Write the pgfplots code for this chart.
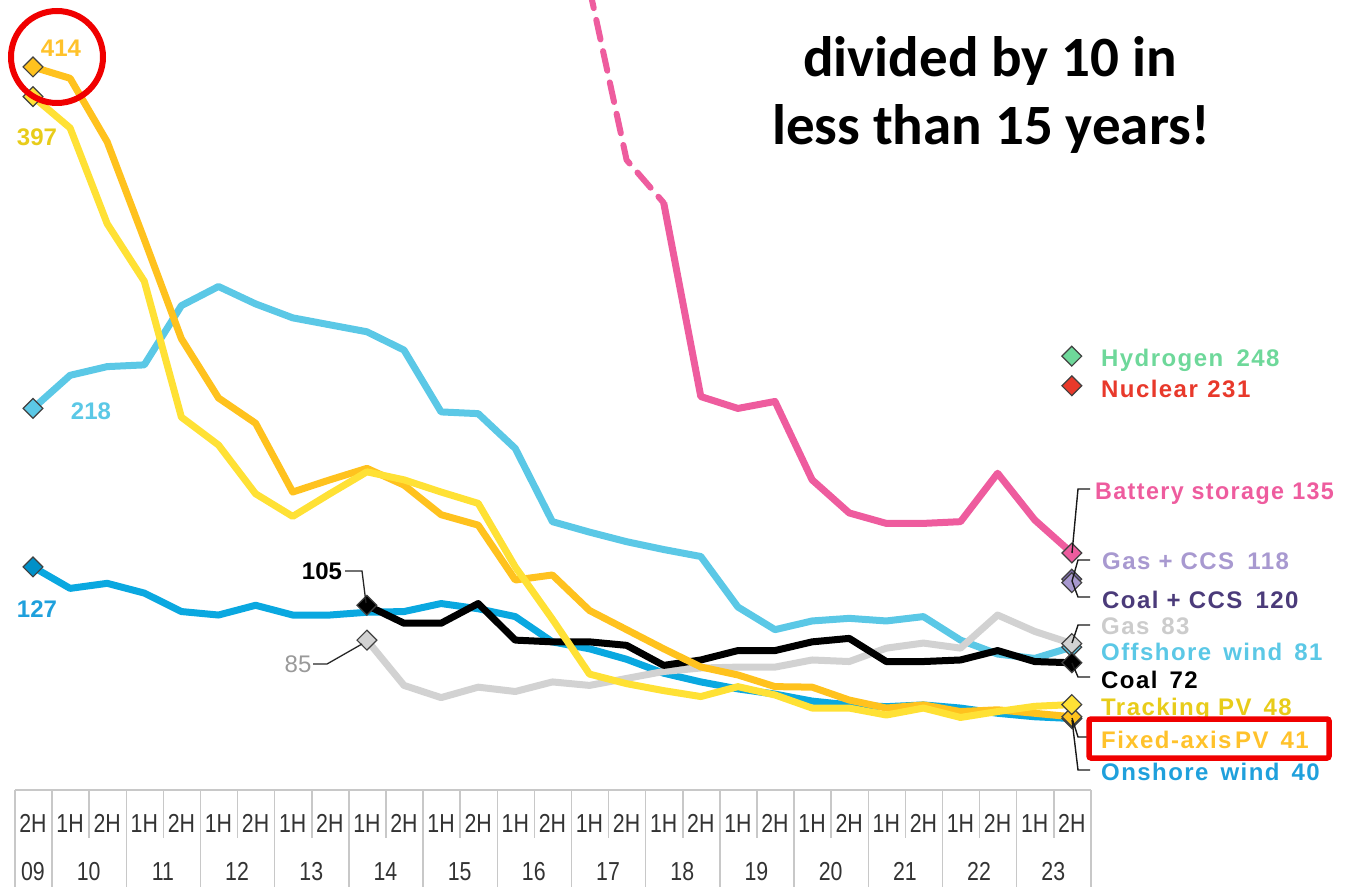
\documentclass[border=0pt]{standalone}
\usepackage{pgfplots}
\pgfplotsset{compat=1.18}
\usepackage{fontspec}
\setmainfont{Liberation Sans}
\newfontfamily\labfont[LetterSpace=6]{Liberation Sans}
\newfontfamily\titlefont{Carlito}

\definecolor{offsh}{HTML}{5BC8E6}
\definecolor{onsh}{HTML}{0AA8E0}
\definecolor{onshm}{HTML}{0090C8}
\definecolor{onshlab}{HTML}{1FA0DC}
\definecolor{fixed}{HTML}{FFC21E}
\definecolor{fixedlab}{HTML}{FFC22B}
\definecolor{track}{HTML}{FFE135}
\definecolor{tracklab}{HTML}{E8CC1A}
\definecolor{batt}{HTML}{EE5C9E}
\definecolor{gasc}{HTML}{D2D2D2}
\definecolor{gaslab}{HTML}{CCCCCC}
\definecolor{gasccs}{HTML}{A899D0}
\definecolor{coalccs}{HTML}{4B3B7A}
\definecolor{coalccsm}{HTML}{7E6BB0}
\definecolor{hydro}{HTML}{6ED89A}
\definecolor{nucl}{HTML}{E8392B}
\definecolor{redmark}{HTML}{F00000}
\definecolor{tabtxt}{HTML}{333333}
\definecolor{tabline}{HTML}{C8C8C8}

\pgfplotsset{
  ser/.style={no marks, line width=7pt, line join=round, color=#1},
  dmark/.style={only marks, mark=square*, mark size=7pt,
     mark options={rotate=45, draw=black!75, line width=1.2pt, fill=#1}},
}

\begin{document}
\begin{tikzpicture}
\useasboundingbox (0pt,0pt) rectangle (1354pt,887pt);
\begin{axis}[
  at={(0pt,0pt)}, anchor=south west,
  scale only axis, width=1354pt, height=887pt,
  xmin=-0.88949, xmax=35.6065, ymin=-56.72, ymax=452.46,
  axis lines=none, clip=true,
]
% Offshore wind
\addplot[ser=offsh] coordinates {
(0,218)(1,237)(2,242)(3,243)(4,277)(5,288)(6,278)(7,270)(8,266)(9,262)
(10,251.5)(11,216)(12,215)(13,195)(14,153)(15,147)(16,141.5)(17,137)(18,133)
(19,104)(20,91)(21,96)(22,97.5)(23,96)(24,98.5)(25,85)(26,77)(27,74.5)(28,81)};
% Onshore wind
\addplot[ser=onsh] coordinates {
(0,127)(1,114.7)(2,117.6)(3,112)(4,101.4)(5,99.4)(6,105)(7,99.4)(8,99.4)(9,101)
(10,101.4)(11,106)(12,103)(13,98.5)(14,84)(15,80)(16,74)(17,66)(18,61)
(19,57)(20,54)(21,50)(22,47.8)(23,46.8)(24,47.8)(25,46)(26,43)(27,41)(28,40)};
% Gas
\addplot[ser=gasc] coordinates {
(9,85)(10,59)(11,52)(12,58)(13,55.5)(14,61)(15,59)(16,63)(17,67)(18,69)
(19,69.5)(20,69.5)(21,73.6)(22,72.7)(23,80.4)(24,83.3)(25,80.4)(26,99.4)(27,90)(28,83)};
% Coal
\addplot[ser=black] coordinates {
(9,105)(10,94.7)(11,94.7)(12,106)(13,85)(14,84)(15,84)(16,82)(17,70.5)(18,73.6)
(19,79)(20,79)(21,84)(22,86)(23,72.7)(24,72.7)(25,73.6)(26,79)(27,72.7)(28,72)};
% Fixed-axis PV
\addplot[ser=fixed] coordinates {
(0,414)(1,407.5)(2,371)(3,315)(4,258)(5,224)(6,209.5)(7,170)(8,177)(9,183.6)
(10,174)(11,157)(12,151)(13,119.5)(14,122.4)(15,102)(16,91)(17,80)(18,69.6)
(19,65)(20,58.3)(21,58)(22,50.6)(23,46)(24,47.8)(25,44)(26,45)(27,43)(28,41)};
% Tracking PV
\addplot[ser=track] coordinates {
(0,397)(1,379)(2,324)(3,291)(4,213)(5,197)(6,169)(7,156)(8,169)(9,181.6)
(10,177)(11,170)(12,163.5)(13,127)(14,97)(15,65.5)(16,60)(17,56)(18,52.6)
(19,58.3)(20,53.5)(21,46)(22,46)(23,42)(24,46)(25,40.6)(26,44)(27,47)(28,48)};
% Battery storage
\addplot[ser=batt, line width=6pt, dash pattern=on 20pt off 12pt, line cap=round] coordinates {
(15,459)(16,360.6)(17,336)};
\addplot[ser=batt] coordinates {
(17,336)(18,224.8)(19,218)(20,222)(21,177)(22,158)(23,152)(24,152)(25,153)
(26,180.8)(27,154)(28,135)};

% markers
\addplot[dmark=fixed] coordinates {(0,414)};
\addplot[dmark=track] coordinates {(0,397)};
\addplot[dmark=offsh] coordinates {(0,218)};
\addplot[dmark=onshm] coordinates {(0,127)};
\addplot[dmark=black] coordinates {(9,105)};
\addplot[dmark=gasc] coordinates {(9,85)};
\addplot[dmark=hydro] coordinates {(28,248)};
\addplot[dmark=nucl] coordinates {(28,231)};
\addplot[dmark=batt] coordinates {(28,135)};
\addplot[dmark=coalccsm] coordinates {(28,120)};
\addplot[dmark=gasccs] coordinates {(28,118)};
\addplot[dmark=offsh] coordinates {(28,81)};
\addplot[dmark=gasc] coordinates {(28,83)};
\addplot[dmark=black] coordinates {(28,72)};
\addplot[dmark=onsh] coordinates {(28,40)};
\addplot[dmark=fixed] coordinates {(28,41)};
\addplot[dmark=track] coordinates {(28,48)};
\end{axis}

\begin{scope}[shift={(0pt,887pt)}, x=1pt, y=-1pt]
% title
\node[font=\titlefont\bfseries\fontsize{57}{68}\selectfont, anchor=base, inner sep=0pt] at (990,77) {divided by 10 in};
\node[font=\titlefont\bfseries\fontsize{57}{68}\selectfont, anchor=base, inner sep=0pt] at (991,145) {less than 15 years!};

% left value labels
\tikzset{vl/.style={font=\bfseries\fontsize{24}{28}\selectfont, inner sep=0pt}}
\node[vl, text=fixedlab] at (61,48) {414};
\node[vl, text=tracklab] at (37,137) {397};
\node[vl, text=offsh] at (91,411) {218};
\node[vl, text=onshlab] at (37,609) {127};
\node[vl, text=black] at (322,571) {105};
\node[font=\fontsize{24}{28}\selectfont, inner sep=0pt, text=black!40] at (298,664) {85};
\draw[line width=1.3pt, black!85] (345,571) -- (362,571) -- (366,603);
\draw[line width=1.3pt, black!85] (313,664) -- (327,664) -- (362,644);

% right labels
\tikzset{rl/.style={font=\labfont\bfseries\fontsize{24}{28}\selectfont, inner sep=0pt, anchor=base west}}
\node[rl, text=hydro] at (1101,367) {Hydrogen\hspace{0.55em}248};
\node[rl, text=nucl] at (1101,398) {Nuclear\hspace{0.4em}231};
\node[rl, text=batt, xscale=0.97] at (1095,500) {Battery storage\hspace{0.35em}135};
\node[rl, text=gasccs] at (1102,569) {Gas + CCS\hspace{0.55em}118};
\node[rl, text=coalccs] at (1102,608) {Coal + CCS\hspace{0.55em}120};
\node[rl, text=gaslab] at (1101,634) {Gas\hspace{0.5em}83};
\node[rl, text=offsh] at (1101,660) {Offshore\hspace{0.5em}wind\hspace{0.5em}81};
\node[rl, text=black] at (1101,688) {Coal\hspace{0.5em}72};
\node[rl, text=tracklab] at (1101,715) {Tracking PV\hspace{0.5em}48};
\node[rl, text=fixedlab] at (1101,748) {Fixed-axis\hspace{0.15em}PV\hspace{0.5em}41};
\node[rl, text=onshlab] at (1101,780) {Onshore\hspace{0.5em}wind\hspace{0.5em}40};

% leaders
\tikzset{ld/.style={line width=1.4pt, black!90}}
\draw[ld] (1072,553) -- (1078,489) -- (1090,489);
\draw[ld] (1072,581) -- (1078,560) -- (1090,560);
\draw[ld] (1072,581) -- (1078,597) -- (1090,597);
\draw[ld] (1072,643) -- (1078,625) -- (1090,625);
\draw[ld] (1072,663) -- (1078,677) -- (1090,677);
\draw[ld] (1072,718) -- (1078,737) -- (1090,737);
\draw[ld] (1072,720) -- (1078,770) -- (1090,770);

% red highlights
\draw[redmark, line width=6pt] (57,57) circle[radius=46];
\draw[redmark, line width=5.5pt, rounded corners=2pt] (1089,719) rectangle (1329,758);

% table
\draw[tabline, line width=1.5pt] (15,790) -- (1091,790);
\foreach \k in {0,1,3,5,7,9,11,13,15,17,19,21,23,25,27,29}
  \draw[tabline, line width=1.5pt] ({15+37.1*\k},790) -- ({15+37.1*\k},887);
\foreach \k in {2,4,...,28}
  \draw[tabline, line width=1.5pt] ({15+37.1*\k},790) -- ({15+37.1*\k},838);
\tikzset{tb/.style={font=\fontsize{26}{28}\selectfont, text=tabtxt, inner sep=0pt, xscale=0.82, anchor=base}}
\foreach \i in {0,2,...,28}
  \node[tb] at ({33+37.1*\i},832) {2H};
\foreach \i in {1,3,...,27}
  \node[tb] at ({33+37.1*\i},832) {1H};
\node[tb] at (33,880) {09};
\foreach \y [count=\c] in {10,...,23}
  \node[tb] at ({33+37.1*(2*\c-0.5)},880) {\y};
\end{scope}
\end{tikzpicture}
\end{document}
